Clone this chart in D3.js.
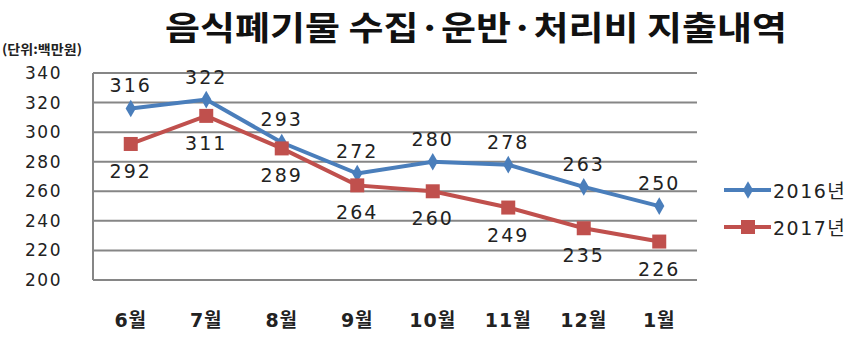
<!DOCTYPE html>
<html>
<head>
<meta charset="utf-8">
<script src="https://cdn.jsdelivr.net/npm/d3@7"></script>
<style>
  body { margin: 0; background: #fff; }
  #graf { width: 862px; height: 342px; }
  text { fill: #222; }
</style>
</head>
<body>
<div id="graf"></div>
<script>
// I. Datos
meses = ['6월', '7월', '8월', '9월', '10월', '11월', '12월', '1월']
serie2016 = [316, 322, 293, 272, 280, 278, 263, 250]
serie2017 = [292, 311, 289, 264, 260, 249, 235, 226]
yTicks = [200, 220, 240, 260, 280, 300, 320, 340]
series = [
  { nombre: '2016년', valores: serie2016, color: '#4a7ebb', marca: 'diamond', lado: -1 },
  { nombre: '2017년', valores: serie2017, color: '#c0504d', marca: 'square', lado: 1 }
]

// II. Configuración
ancho_total = 862
alto_total = 342
margins = { top: 73, left: 93, right: 165, bottom: 62 }
ancho = ancho_total - margins.left - margins.right
alto = alto_total - margins.top - margins.bottom

svg = d3.select('#graf').append('svg')
        .attr('width', ancho_total)
        .attr('height', alto_total)

g = svg.append('g')
       .attr('transform', `translate(${ margins.left }, ${ margins.top })`)

x = d3.scaleBand()
      .domain(meses)
      .range([0, ancho])
y = d3.scaleLinear()
      .domain([200, 340])
      .range([alto, 0])

numFont = '"DejaVu Sans", "Noto Sans CJK KR", sans-serif'

// título
svg.append('text')
   .attr('x', 165)
   .attr('y', 40)
   .attr('textLength', 622)
   .attr('lengthAdjust', 'spacingAndGlyphs')
   .style('font-family', '"Noto Sans CJK KR", sans-serif')
   .style('font-weight', 'bold')
   .style('font-size', '33px')
   .style('fill', '#111')
   .text('음식폐기물 수집·운반·처리비 지출내역')

svg.append('text')
   .attr('x', 2)
   .attr('y', 54)
   .attr('textLength', 80)
   .attr('lengthAdjust', 'spacingAndGlyphs')
   .style('font-family', '"Noto Sans CJK KR", sans-serif')
   .style('font-weight', 'bold')
   .style('font-size', '13px')
   .text('(단위:백만원)')

// III. Ejes
gridG = g.append('g')
gridG.selectAll('line')
     .data(yTicks)
     .enter().append('line')
     .attr('x1', 0)
     .attr('x2', ancho)
     .attr('y1', d => y(d))
     .attr('y2', d => y(d))
     .attr('stroke', '#868686')
     .attr('stroke-width', 2)
g.append('line')
 .attr('x1', 0).attr('x2', 0)
 .attr('y1', y(340)).attr('y2', y(200))
 .attr('stroke', '#868686')
 .attr('stroke-width', 2)

yAxisGroup = g.append('g')
yAxisGroup.selectAll('text')
          .data(yTicks)
          .enter().append('text')
          .attr('x', -31)
          .attr('y', d => y(d))
          .attr('dy', '0.35em')
          .attr('text-anchor', 'end')
          .style('font-family', numFont)
          .style('font-size', '17px')
          .style('letter-spacing', '1.5px')
          .text(d => d)

xAxisGroup = g.append('g')
xAxisGroup.selectAll('text')
          .data(meses)
          .enter().append('text')
          .attr('x', d => x(d) + x.bandwidth() / 2)
          .attr('y', alto + 47)
          .attr('text-anchor', 'middle')
          .style('font-family', numFont)
          .style('font-weight', 'bold')
          .style('font-size', '19px')
          .style('letter-spacing', '1px')
          .text(d => d)

// IV. Series
linea = d3.line()
          .x((d, i) => x(meses[i]) + x.bandwidth() / 2)
          .y(d => y(d))

function marca(sel, s) {
  if (s.marca === 'diamond') {
    sel.append('path')
       .attr('d', d3.symbol(d3.symbolDiamond, 90)())
       .attr('fill', s.color)
  } else {
    sel.append('rect')
       .attr('x', -7).attr('y', -7)
       .attr('width', 14).attr('height', 14)
       .attr('fill', s.color)
  }
}

series.forEach(s => {
  sg = g.append('g')
  sg.append('path')
    .datum(s.valores)
    .attr('d', linea)
    .attr('fill', 'none')
    .attr('stroke', s.color)
    .attr('stroke-width', 4)

  pts = sg.selectAll('g.pt')
          .data(s.valores)
          .enter().append('g')
          .attr('class', 'pt')
          .attr('transform', (d, i) => `translate(${ x(meses[i]) + x.bandwidth() / 2 }, ${ y(d) })`)
  pts.each(function() { marca(d3.select(this), s) })

  sg.selectAll('text')
    .data(s.valores)
    .enter().append('text')
    .attr('x', (d, i) => x(meses[i]) + x.bandwidth() / 2)
    .attr('y', d => y(d) + (s.lado < 0 ? -16 : 34))
    .attr('text-anchor', 'middle')
    .style('font-family', numFont)
    .style('font-size', '19px')
    .style('letter-spacing', '2px')
    .text(d => d)
})

// V. Leyenda
leyenda = svg.append('g')
             .attr('transform', 'translate(724, 190)')
series.forEach((s, i) => {
  li = leyenda.append('g')
              .attr('transform', `translate(0, ${ i * 37 })`)
  li.append('line')
    .attr('x1', 0).attr('x2', 47)
    .attr('stroke', s.color)
    .attr('stroke-width', 4)
  mg = li.append('g').attr('transform', 'translate(24, 0)')
  marca(mg, s)
  li.append('text')
    .attr('x', 49)
    .attr('dy', '0.4em')
    .style('font-family', numFont)
    .style('font-size', '19px')
    .style('letter-spacing', '1.5px')
    .text(s.nombre)
})
</script>
</body>
</html>
